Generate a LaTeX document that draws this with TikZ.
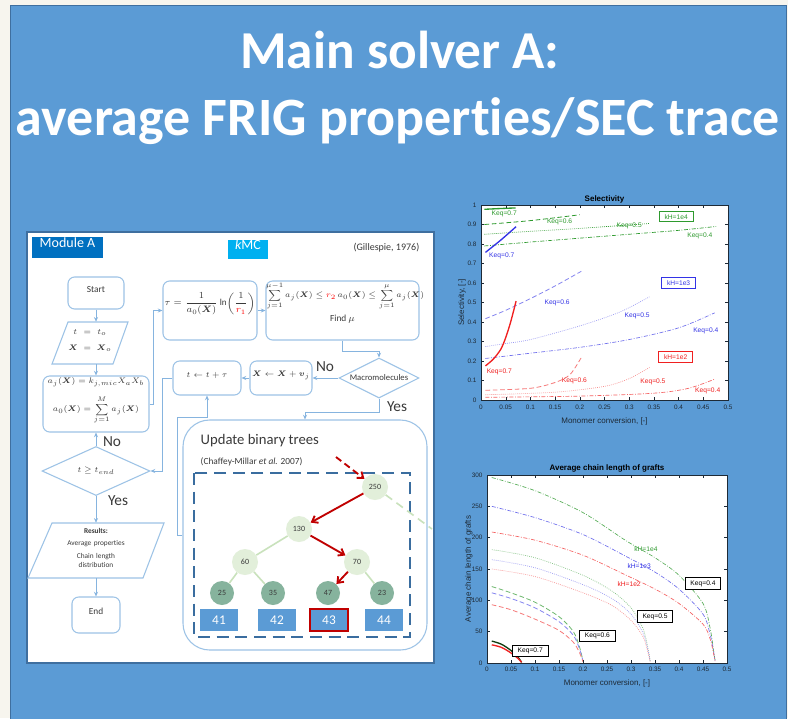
\documentclass[tikz,border=0pt]{standalone}
\usepackage{fontspec}
\setmainfont{Carlito}[Ligatures=NoCommon]
\newfontfamily\arialf{Liberation Sans}
\usepackage{amsmath}
\usetikzlibrary{shapes.geometric,arrows.meta,fit}
\definecolor{cream}{HTML}{F7F5EE}
\definecolor{bgblue}{HTML}{5B9BD5}
\definecolor{panelline}{HTML}{3F6F9F}
\definecolor{boxline}{HTML}{9DC3E6}
\definecolor{arrowc}{HTML}{86B4DF}
\definecolor{modblue}{HTML}{0070C0}
\definecolor{kmccyan}{HTML}{00B0F0}
\definecolor{treered}{HTML}{C00000}
\definecolor{nodegreen}{HTML}{E2EFDA}
\definecolor{leafgreen}{HTML}{86B39D}
\definecolor{edgegreen}{HTML}{C9E2BC}
\definecolor{dashblue}{HTML}{3A6D9F}
\definecolor{txtdark}{HTML}{3A3A3A}
\definecolor{chartxt}{HTML}{1E2A36}
\definecolor{cgreen}{HTML}{2E9A2E}
\definecolor{cblue}{HTML}{3333E6}
\definecolor{cred}{HTML}{F02020}
\tikzset{
  fbox/.style={draw=boxline, line width=0.8pt, rounded corners=5pt, inner sep=0pt, fill=white, text=txtdark, font=\fontsize{7}{9}\selectfont, align=center},
  conn/.style={draw=arrowc, line width=0.6pt, -{Stealth[length=3.5pt,width=3pt]}},
  yn/.style={font=\fontsize{11.5}{13}\selectfont, text=txtdark},
  tnode/.style={circle, fill=nodegreen, minimum size=19.5pt, inner sep=0pt, font=\fontsize{6}{7}\selectfont, text=txtdark},
  leafnode/.style={circle, fill=leafgreen, minimum size=18pt, inner sep=0pt, font=\fontsize{6}{7}\selectfont, text=txtdark},
  lbox/.style={rectangle, fill=bgblue, minimum width=28.5pt, minimum height=16.5pt, inner sep=0pt, text=white, font=\fontsize{10}{12}\selectfont},
  redarr/.style={draw=treered, line width=1.4pt, -{Straight Barb[length=4pt,width=6pt]}},
  gedge/.style={draw=edgegreen, line width=1.2pt},
  tickmk/.style={draw=chartxt, line width=0.3pt},
  ticklab/.style={font=\arialf\fontsize{4.8}{5.5}\selectfont, text=chartxt, inner sep=1pt},
  axlab/.style={font=\arialf\fontsize{6}{7}\selectfont, text=chartxt},
  axtitle/.style={font=\arialf\bfseries\fontsize{6}{7}\selectfont, text=black},
  plab/.style={font=\arialf\fontsize{5}{6}\selectfont, inner sep=0.5pt},
  kbox/.style={font=\arialf\fontsize{5}{6}\selectfont, fill=white, line width=0.7pt, inner xsep=4pt, inner ysep=2pt},
  c07/.style={line width=0.8pt},
  c06/.style={line width=0.6pt, dash pattern=on 3.5pt off 2pt},
  c05/.style={line width=0.5pt, dash pattern=on 0.6pt off 0.9pt},
  c04/.style={line width=0.5pt, dash pattern=on 3pt off 1.2pt on 0.6pt off 1.2pt},
}
\begin{document}
\begin{tikzpicture}[x=0.75pt,y=-0.75pt]
\useasboundingbox (0,0) rectangle (788,718);
\fill[cream] (0,0) rectangle (788,718);
\fill[bgblue] (10,5) rectangle (786,720);
\draw[panelline, line width=0.6pt] (10,720) -- (10,5) -- (786,5) -- (786,720);

% title
\node[anchor=base, text=white, font=\fontsize{40}{48}\selectfont\bfseries] (title1) at (400,68) {Main solver A:};
\node[anchor=base, text=white, font=\fontsize{40.5}{48}\selectfont\bfseries] (title2) at (398,135) {average FRIG properties/SEC trace};

% flowchart panel
\node[fit={(27,232)(434,663)}, inner sep=0pt, fill=white, draw=panelline, line width=1pt] (panel) {};
\node[fit={(32,237)(103,258)}, inner sep=0pt, fill=modblue, text=white, font=\fontsize{10.5}{12}\selectfont] (modA) {Module A};
\node[fit={(228,240)(268,259)}, inner sep=0pt, fill=kmccyan, text=white, font=\fontsize{10.5}{12}\selectfont] (kmc) {\itshape k\upshape MC};
\node[anchor=east, text=txtdark, font=\fontsize{7.5}{9}\selectfont] (gil) at (424,248) {(Gillespie, 1976)};

\node[fbox, fit={(68,277)(124,309)}] (start) {Start};
\draw[boxline, line width=0.8pt, fill=white] (68,322) -- (128,322) -- (113,364) -- (52,364) -- cycle;
\node[fit={(52,322)(128,364)}, inner sep=0pt, align=center, text=txtdark, font=\fontsize{6.5}{12}\selectfont] (init) {$t = t_o$\\$\boldsymbol{X} = \boldsymbol{X}_o$};
\node[fbox, fit={(43,376)(149,432)}, font=\fontsize{6}{7}\selectfont] (aj) {\mbox{$a_j(\boldsymbol{X}) = k_{j,mic}X_aX_b$}\\[6pt]\mbox{$a_0(\boldsymbol{X}) = \displaystyle\sum_{j=1}^{M} a_j(\boldsymbol{X})$}};
\node[diamond, aspect=2, draw=boxline, line width=0.8pt, fill=white, minimum width=81pt, minimum height=36.75pt, inner sep=0pt, text=txtdark, font=\fontsize{6.5}{9}\selectfont] (tend) at (96,471) {$t \geq t_{end}$};
\draw[boxline, line width=0.8pt, fill=white] (52,523) -- (164,523) -- (143,578) -- (28,578) -- cycle;
\node[fit={(28,523)(164,578)}, inner sep=0pt, align=center, text=txtdark, font=\fontsize{5.5}{8}\selectfont] (res) {\textbf{Results:}\\[1.5pt]Average properties\\[1.5pt]Chain length\\[-1pt]distribution};
\node[fbox, fit={(72,597)(120,633)}] (endn) {End};

\node[fbox, fit={(163,281)(257,340)}, font=\fontsize{6.8}{9}\selectfont] (tau) {\mbox{$\tau = \dfrac{1}{a_0(\boldsymbol{X})}\ln\!\left(\dfrac{1}{\textcolor{red}{r_1}}\right)$}};
\node[fbox, fit={(266,281)(419,340)}, font=\fontsize{5.8}{7}\selectfont] (sum) {\mbox{$\displaystyle\sum_{j=1}^{\mu-1} a_j(\boldsymbol{X}) \le \textcolor{red}{r_2}\,a_0(\boldsymbol{X}) \le \sum_{j=1}^{\mu} a_j(\boldsymbol{X})$}\\[3pt]{\fontsize{7}{8}\selectfont Find $\mu$}};
\node[diamond, aspect=2, draw=boxline, line width=0.8pt, fill=white, minimum width=60pt, minimum height=30pt, inner sep=0pt, text=txtdark, font=\fontsize{6.5}{8}\selectfont] (mac) at (379,378) {Macromolecules};
\node[fbox, fit={(250,361)(312,395)}, font=\fontsize{6.5}{8}\selectfont] (xb) {\mbox{$\boldsymbol{X} \leftarrow \boldsymbol{X} + \boldsymbol{v}_j$}};
\node[fbox, fit={(173,361)(241,395)}, font=\fontsize{6.5}{8}\selectfont] (tb) {\mbox{$t \leftarrow t + \tau$}};
\node[fit={(183,420)(427,650)}, inner sep=0pt, draw=boxline, line width=0.8pt, rounded corners=20pt] (tree) {};

% labels yes/no
\node[yn] (no1) at (112,442) {No};
\node[yn] (yes1) at (118,501) {Yes};
\node[yn] (no2) at (325,367) {No};
\node[yn] (yes2) at (397,407) {Yes};

% connectors
\coordinate (colx) at (96,0);
\coordinate (fb) at (177,417);
\draw[conn] (start.south) -- (colx |- init.north);
\draw[conn] (colx |- init.south) -- (colx |- aj.north);
\draw[conn] (aj.east) -- ++(4,0) |- (tau.west);
\draw[conn] (tau.east) -- (sum.west);
\draw[conn] (sum.south) -- ++(0,11) -| (mac.north);
\draw[conn] (mac.west) -- (xb.east);
\draw[conn] (xb.west) -- (tb.east);
\draw[conn] (tb.west) -- ++(-10,0) |- (tend.east);
\draw[conn] (tend.north) -- (aj.south);
\draw[conn] (tend.south) -- (colx |- res.north);
\draw[conn] (colx |- res.south) -- (endn.north);
\draw[conn] (mac.south) -- ++(0,14) -| (tree.north);
\draw[conn] (tree.west) -- (fb |- tree.west) -- (fb) -| (tb.south);

% binary tree
\node[anchor=west, text=txtdark, font=\fontsize{11}{13}\selectfont] (upd) at (196,441) {Update binary trees};
\node[anchor=west, text=txtdark, font=\fontsize{7}{8}\selectfont] (chaf) at (196,462) {(Chaffey-Millar \textit{et al.} 2007)};
\draw[dashblue, line width=2.2pt, dash pattern=on 9pt off 5pt] (194,473) rectangle (410,637);
\node[tnode] (n250) at (375,487) {250};
\node[tnode] (n130) at (299,529) {130};
\node[tnode] (n60) at (245,562) {60};
\node[tnode] (n70) at (357,562) {70};
\node[leafnode] (n25) at (222,593) {25};
\node[leafnode] (n35) at (273,593) {35};
\node[leafnode] (n47) at (328,593) {47};
\node[leafnode] (n23) at (382,593) {23};
\node[lbox] (b41) at (219,620) {41};
\node[lbox] (b42) at (277,620) {42};
\node[lbox, draw=treered, line width=1.3pt] (b43) at (329,620) {43};
\node[lbox] (b44) at (384,620) {44};
\coordinate (gd) at (432,529);
\coordinate (rd) at (336,457);
\draw[gedge] (n130) -- (n60);
\draw[gedge] (n60) -- (n25);
\draw[gedge] (n60) -- (n35);
\draw[gedge] (n70) -- (n23);
\draw[gedge, dash pattern=on 6pt off 4pt] (n250) -- (gd);
\draw[redarr] (n250) -- (n130);
\draw[redarr] (n130) -- (n70);
\draw[redarr] (n70) -- (n47);
\draw[redarr, dash pattern=on 5pt off 3pt] (rd) -- (n250);

% ---------------- Selectivity chart
\begin{scope}[shift={(481,400)}, x=370.5pt, y=146.25pt]
\fill[white] (0,0) rectangle (0.5,1);
\draw[cgreen, c07, line width=1pt] plot[smooth] coordinates {(0.007,0.978) (0.04,0.982) (0.07,0.985)};
\draw[cgreen, c06] plot[smooth] coordinates {(0.007,0.90) (0.1,0.92) (0.2,0.95)};
\draw[cgreen, c05] plot[smooth] coordinates {(0.007,0.85) (0.1,0.865) (0.2,0.88) (0.34,0.905)};
\draw[cgreen, c04] plot[smooth] coordinates {(0.007,0.79) (0.1,0.81) (0.2,0.83) (0.3,0.85) (0.4,0.87) (0.476,0.89)};
\draw[cblue, c07, line width=1pt] plot[smooth] coordinates {(0.009,0.757) (0.04,0.82) (0.071,0.889)};
\draw[cblue!60, c06] plot[smooth] coordinates {(0.009,0.417) (0.05,0.46) (0.1,0.52) (0.15,0.585) (0.203,0.66)};
\draw[cblue!50, c05] plot[smooth] coordinates {(0.009,0.274) (0.05,0.29) (0.1,0.31) (0.2,0.38) (0.28,0.45) (0.341,0.529)};
\draw[cblue!70, c04] plot[smooth] coordinates {(0.009,0.213) (0.1,0.24) (0.2,0.27) (0.3,0.31) (0.4,0.37) (0.473,0.447)};
\draw[cred, c07, line width=1pt] plot[smooth] coordinates {(0.009,0.175) (0.025,0.21) (0.04,0.26) (0.05,0.32) (0.06,0.40) (0.071,0.507)};
\draw[cred!60, c06] plot[smooth] coordinates {(0.009,0.05) (0.1,0.06) (0.15,0.09) (0.18,0.13) (0.203,0.218)};
\draw[cred!50, c05] plot[smooth] coordinates {(0.009,0.027) (0.15,0.04) (0.25,0.07) (0.3,0.11) (0.341,0.167)};
\draw[cred!70, c04] plot[smooth] coordinates {(0.009,0.014) (0.2,0.02) (0.35,0.035) (0.42,0.06) (0.473,0.107)};
\node[plab, text=cgreen] (sg7) at (0.047,0.955) {Keq=0.7};
\node[plab, text=cgreen] (sg6) at (0.159,0.915) {Keq=0.6};
\node[plab, text=cgreen] (sg5) at (0.30,0.895) {Keq=0.5};
\node[plab, text=cgreen] (sg4) at (0.443,0.843) {Keq=0.4};
\node[kbox, draw=cgreen, text=cgreen] (kh4) at (0.395,0.94) {kH=1e4};
\node[plab, text=cblue] (sb7) at (0.042,0.741) {Keq=0.7};
\node[plab, text=cblue] (sb6) at (0.154,0.498) {Keq=0.6};
\node[plab, text=cblue] (sb5) at (0.316,0.43) {Keq=0.5};
\node[plab, text=cblue] (sb4) at (0.455,0.354) {Keq=0.4};
\node[kbox, draw=cblue, text=cblue] (kh3) at (0.40,0.60) {kH=1e3};
\node[plab, text=cred] (sr7) at (0.037,0.146) {Keq=0.7};
\node[plab, text=cred] (sr6) at (0.189,0.099) {Keq=0.6};
\node[plab, text=cred] (sr5) at (0.348,0.095) {Keq=0.5};
\node[plab, text=cred] (sr4) at (0.459,0.048) {Keq=0.4};
\node[kbox, draw=cred, text=cred] (kh2) at (0.394,0.221) {kH=1e2};
\draw[chartxt, line width=0.4pt] (0,0) rectangle (0.5,1);
\foreach \t/\l in {0/0,0.05/0.05,0.1/0.1,0.15/0.15,0.2/0.2,0.25/0.25,0.3/0.3,0.35/0.35,0.4/0.4,0.45/0.45,0.5/0.5} {
  \draw[tickmk] (\t,0) -- ++(0,2pt) (\t,1) -- ++(0,-2pt);
  \node[ticklab, anchor=north] at (\t,-0.015) {\l};
}
\foreach \t/\l in {0/0,0.1/0.1,0.2/0.2,0.3/0.3,0.4/0.4,0.5/0.5,0.6/0.6,0.7/0.7,0.8/0.8,0.9/0.9,1/1} {
  \draw[tickmk] (0,\t) -- ++(2pt,0) (0.5,\t) -- ++(-2pt,0);
  \node[ticklab, anchor=east] at (-0.006,\t) {\l};
}
\node[axtitle] (selt) at (0.25,1.031) {Selectivity};
\node[axlab] (selx) at (0.25,-0.108) {Monomer conversion, [-]};
\node[axlab, rotate=90] (sely) at (-0.0385,0.5) {Selectivity, [-]};
\end{scope}

% ---------------- Chain length chart
\begin{scope}[shift={(487,663)}, x=360pt, y=0.47pt]
\fill[white] (0,0) rectangle (0.5,300);
\draw[cgreen!80, c04] plot[smooth] coordinates {(0.01,296) (0.1,275) (0.2,240) (0.29,195) (0.35,168) (0.40,140) (0.45,95) (0.465,55) (0.472,20) (0.475,5)};
\draw[cblue!70, c04] plot[smooth] coordinates {(0.01,250) (0.1,232) (0.2,205) (0.29,170) (0.35,145) (0.40,118) (0.45,78) (0.465,45) (0.472,18) (0.475,4)};
\draw[cred!70, c04] plot[smooth] coordinates {(0.01,209) (0.1,196) (0.2,172) (0.29,140) (0.35,118) (0.40,95) (0.45,62) (0.465,38) (0.472,15) (0.475,3)};
\draw[cgreen!60, c05] plot[smooth] coordinates {(0.01,181) (0.1,168) (0.2,140) (0.26,115) (0.3,88) (0.325,55) (0.335,25) (0.34,3)};
\draw[cblue!50, c05] plot[smooth] coordinates {(0.01,165) (0.1,152) (0.2,125) (0.26,103) (0.3,78) (0.325,48) (0.335,22) (0.34,3)};
\draw[cred!50, c05] plot[smooth] coordinates {(0.01,150) (0.1,138) (0.2,112) (0.26,92) (0.3,68) (0.325,42) (0.335,18) (0.34,2)};
\draw[cgreen!70, c06] plot[smooth] coordinates {(0.01,122) (0.05,112) (0.1,97) (0.15,74) (0.18,50) (0.193,25) (0.2,3)};
\draw[cblue!60, c06] plot[smooth] coordinates {(0.01,112) (0.05,103) (0.1,88) (0.15,66) (0.18,44) (0.193,22) (0.2,3)};
\draw[cred!60, c06] plot[smooth] coordinates {(0.01,93) (0.05,85) (0.1,70) (0.15,52) (0.18,33) (0.193,16) (0.2,2)};
\draw[cgreen!40!black, c07, line width=1pt] plot[smooth] coordinates {(0.01,35) (0.03,30) (0.05,20) (0.065,9) (0.072,1)};
\draw[cred, c07, line width=1pt] plot[smooth] coordinates {(0.01,29) (0.03,25) (0.05,16) (0.065,7) (0.072,1)};
\node[plab, text=cgreen] (ag) at (0.331,182) {kH=1e4};
\node[plab, text=cblue] (ab) at (0.317,154) {kH=1e3};
\node[plab, text=cred] (ar) at (0.296,126) {kH=1e2};
\node[kbox, draw=black, text=black] (ak4) at (0.45,127) {Keq=0.4};
\node[kbox, draw=black, text=black] (ak5) at (0.35,74) {Keq=0.5};
\node[kbox, draw=black, text=black] (ak6) at (0.23,43) {Keq=0.6};
\node[kbox, draw=black, text=black] (ak7) at (0.09,19) {Keq=0.7};
\draw[chartxt, line width=0.4pt] (0,0) rectangle (0.5,300);
\foreach \t/\l in {0/0,0.05/0.05,0.1/0.1,0.15/0.15,0.2/0.2,0.25/0.25,0.3/0.3,0.35/0.35,0.4/0.4,0.45/0.45,0.5/0.5} {
  \draw[tickmk] (\t,0) -- ++(0,2pt) (\t,300) -- ++(0,-2pt);
  \node[ticklab, anchor=north] at (\t,-4) {\l};
}
\foreach \t in {0,50,100,150,200,250,300} {
  \draw[tickmk] (0,\t) -- ++(2pt,0) (0.5,\t) -- ++(-2pt,0);
  \node[ticklab, anchor=east] at (-0.006,\t) {\t};
}
\node[axtitle] (acht) at (0.25,311) {Average chain length of grafts};
\node[axlab] (achx) at (0.25,-32) {Monomer conversion, [-]};
\node[axlab, rotate=90] (achy) at (-0.038,150) {Average chain length of grafts};
\end{scope}
\end{tikzpicture}
\end{document}
